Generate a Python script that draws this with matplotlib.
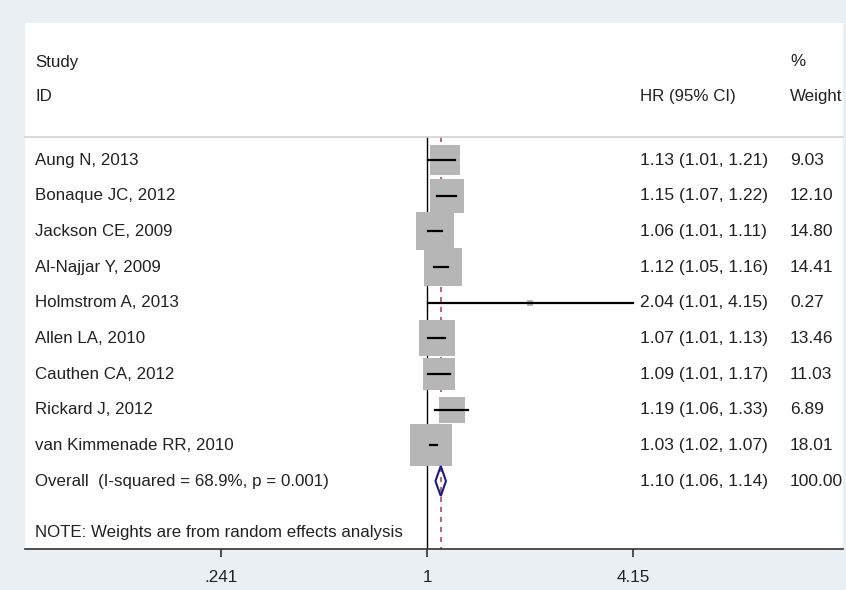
"""Forest plot of hazard ratios (random effects meta-analysis)."""

import numpy as np
import matplotlib.pyplot as plt
from matplotlib.transforms import blended_transform_factory
from matplotlib.patches import Polygon

plt.rcParams["font.family"] = ["Liberation Sans", "DejaVu Sans"]

studies = [
    "Aung N, 2013",
    "Bonaque JC, 2012",
    "Jackson CE, 2009",
    "Al-Najjar Y, 2009",
    "Holmstrom A, 2013",
    "Allen LA, 2010",
    "Cauthen CA, 2012",
    "Rickard J, 2012",
    "van Kimmenade RR, 2010",
]
hr = [1.13, 1.15, 1.06, 1.12, 2.04, 1.07, 1.09, 1.19, 1.03]
lo = [1.01, 1.07, 1.01, 1.05, 1.01, 1.01, 1.01, 1.06, 1.02]
hi = [1.21, 1.22, 1.11, 1.16, 4.15, 1.13, 1.17, 1.33, 1.07]
weights = [9.03, 12.10, 14.80, 14.41, 0.27, 13.46, 11.03, 6.89, 18.01]

overall_label = "Overall  (I-squared = 68.9%, p = 0.001)"
overall = (1.10, 1.06, 1.14)
overall_weight = 100.00

tick_values = [0.241, 1, 4.15]
tick_labels = [".241", "1", "4.15"]

W, H = 846, 590
fig = plt.figure(figsize=(W / 100, H / 100), dpi=100, facecolor="#e9eff2")

# white plot panel in pixel terms
px_left, px_right, px_top, px_bottom = 25, 843, 23, 549
ax = fig.add_axes([px_left / W, 1 - px_bottom / H,
                   (px_right - px_left) / W, (px_bottom - px_top) / H])
ax.set_facecolor("white")

# log x axis: x=1 at pixel 427, 144.8 px per log unit
x_one, px_per_log = 427, 144.8
ax.set_xscale("log")
ax.set_xlim(np.exp((px_left - x_one) / px_per_log),
            np.exp((px_right - x_one) / px_per_log))

# rows: first study at pixel 160, 35.67 px per row
row0, row_h = 160, 35.67
def row(py):
    return (py - row0) / row_h

ax.set_ylim(row(px_bottom), row(px_top))

for side in ["top", "left", "right"]:
    ax.spines[side].set_visible(False)
ax.spines["bottom"].set_color("#333333")
ax.spines["bottom"].set_linewidth(1.2)
ax.set_yticks([])
ax.set_xticks(tick_values)
ax.set_xticklabels(tick_labels)
ax.minorticks_off()
ax.tick_params(axis="x", length=6, width=1.2, color="#333333", pad=9,
               labelsize=12.3, labelcolor="#222222")

txt = "#222222"
fs = 12.15      # labels on the left
fs_num = 12.5   # numeric columns
tr = blended_transform_factory(ax.transAxes, ax.transData)
col_study = (35 - px_left) / (px_right - px_left)
col_hr = (640 - px_left) / (px_right - px_left)
col_w = (790 - px_left) / (px_right - px_left)

# header
header_line = row(137)
ax.plot([0, 1], [header_line, header_line], transform=tr, color="#d2d2d2",
        lw=1.2, clip_on=False)
ax.text(col_study, row(62), "Study", transform=tr, va="center", fontsize=fs, color=txt)
ax.text(col_study, row(96), "ID", transform=tr, va="center", fontsize=fs, color=txt)
ax.text(col_hr, row(96), "HR (95% CI)", transform=tr, va="center", fontsize=fs, color=txt)
ax.text(col_w, row(62), "%", transform=tr, va="center", fontsize=fs, color=txt)
ax.text(col_w, row(96), "Weight", transform=tr, va="center", fontsize=fs, color=txt)

# reference lines
ax.plot([1, 1], [header_line, row(px_bottom)], color="black", lw=1.0, zorder=1)
ax.plot([overall[0], overall[0]], [header_line, row(px_bottom)],
        color="#b5475a", lw=1.2, ls=(0, (3, 3)), zorder=1)

# study boxes and CIs
max_side = 42 * 0.72  # points, for the largest weight
for i, name in enumerate(studies):
    side = max_side * np.sqrt(weights[i] / max(weights))
    ax.scatter([hr[i]], [i], marker="s", s=side ** 2, color="#b6b6b6",
               linewidths=0, zorder=2)
    ax.plot([lo[i], hi[i]], [i, i], color="black", lw=1.6, zorder=3)
    ax.text(col_study, i, name, transform=tr, va="center", fontsize=fs, color=txt)
    ax.text(col_hr, i, f"{hr[i]:.2f} ({lo[i]:.2f}, {hi[i]:.2f})", transform=tr,
            va="center", fontsize=fs_num, color=txt)
    ax.text(col_w, i, f"{weights[i]:.2f}", transform=tr, va="center",
            fontsize=fs_num, color=txt)

# overall diamond
r_ov = len(studies)
dh = 15 / row_h
diamond = Polygon([(overall[1], r_ov), (overall[0], r_ov - dh),
                   (overall[2], r_ov), (overall[0], r_ov + dh)],
                  closed=True, facecolor="none", edgecolor="#1c1c80", lw=1.5, zorder=4)
ax.add_patch(diamond)
ax.text(col_study, r_ov, overall_label, transform=tr, va="center", fontsize=fs, color=txt)
ax.text(col_hr, r_ov, f"{overall[0]:.2f} ({overall[1]:.2f}, {overall[2]:.2f})",
        transform=tr, va="center", fontsize=fs_num, color=txt)
ax.text(col_w, r_ov, f"{overall_weight:.2f}", transform=tr, va="center",
        fontsize=fs_num, color=txt)

ax.text(col_study, row(532), "NOTE: Weights are from random effects analysis",
        transform=tr, va="center", fontsize=fs, color=txt)

fig.savefig("out.png", dpi=100, facecolor=fig.get_facecolor())
